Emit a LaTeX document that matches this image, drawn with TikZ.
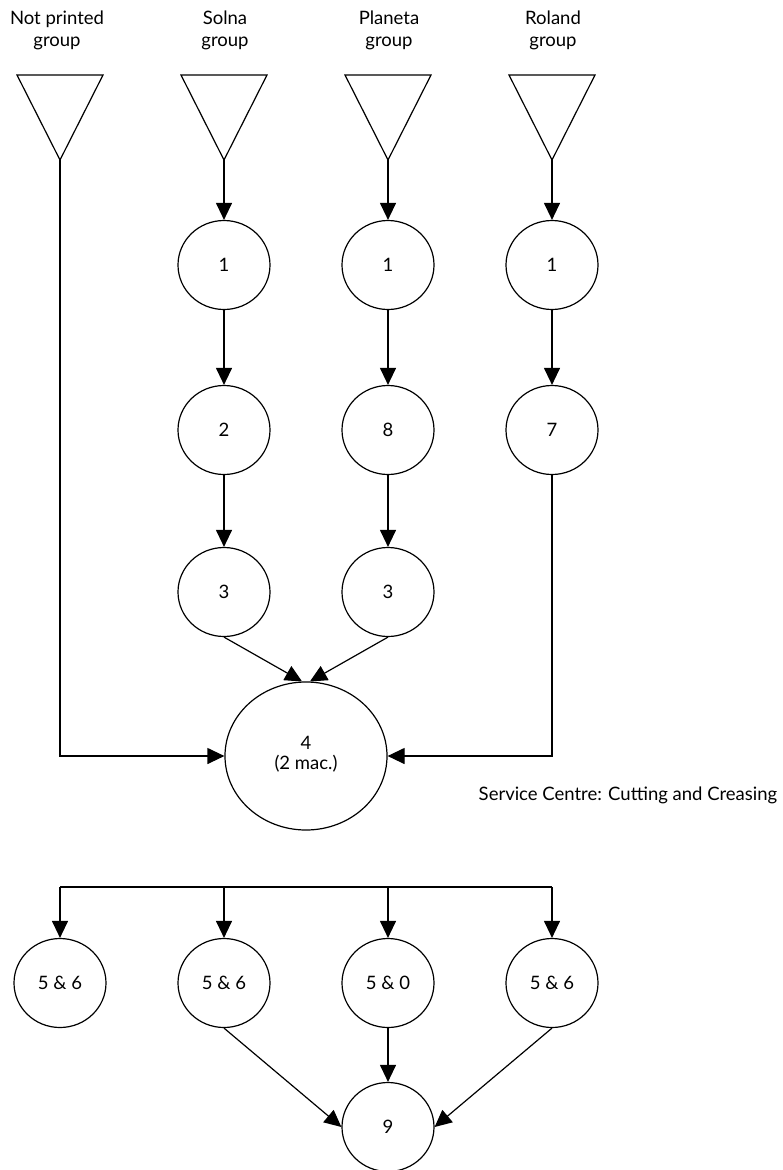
\documentclass[tikz,border=0pt]{standalone}
\usepackage{fontspec}
\setmainfont{Lato}
\usetikzlibrary{arrows.meta,shapes.geometric,calc}
\begin{document}
\begin{tikzpicture}[x=1pt,y=-1pt,
  every node/.style={font=\fontsize{18.5}{22}\selectfont},
  proc/.style={draw,ellipse,line width=1.2pt,minimum width=92pt,minimum height=89pt,inner sep=0pt},
  big/.style={draw,ellipse,line width=1.2pt,minimum width=162pt,minimum height=148pt,inner sep=0pt,align=center},
  lbl/.style={align=center},
  tri/.style={line width=1.2pt},
  conn/.style={line width=1.2pt,-{Triangle[length=17pt,width=16pt]}},
  plain/.style={line width=1.2pt}]
\useasboundingbox (0,0) rectangle (782,1170);
% group labels
\node[lbl] (l0) at (57,30) {Not printed\\group};
\node[lbl] (l1) at (225,30) {Solna\\group};
\node[lbl] (l2) at (389,30) {Planeta\\group};
\node[lbl] (l3) at (553,30) {Roland\\group};
% triangles
\foreach \i/\x in {0/60,1/224,2/388,3/552}{
  \draw[tri] (\x-43,75) -- (\x+43,75) -- (\x,160) -- cycle;
  \coordinate (t\i) at (\x,160);
}
% first row
\node[proc] (a1) at (224,265) {1};
\node[proc] (a2) at (388,265) {1};
\node[proc] (a3) at (552,265) {1};
% second row
\node[proc] (b1) at (224,430) {2};
\node[proc] (b2) at (388,430) {8};
\node[proc] (b3) at (552,430) {7};
% third row
\node[proc] (c1) at (224,592) {3};
\node[proc] (c2) at (388,592) {3};
% big
\node[big] (d) at (306,756) {4\\[-2pt](2 mac.)\\[-16pt]};
\node (sc) at (628,795) {Service Centre: Cutting and Creasing};
% connectors top
\draw[conn] (t1) -- (a1);
\draw[conn] (t2) -- (a2);
\draw[conn] (t3) -- (a3);
\draw[conn] (a1) -- (b1);
\draw[conn] (a2) -- (b2);
\draw[conn] (a3) -- (b3);
\draw[conn] (b1) -- (c1);
\draw[conn] (b2) -- (c2);
\draw[conn] (c1.south) -- (d.93);
\draw[conn] (c2.south) -- (d.87);
\draw[conn] (t0) |- (d.west);
\draw[conn] (b3.south) |- (d.east);
% bottom
\foreach \i/\x in {0/60,1/224,2/388,3/552}{
  \coordinate (h\i) at (\x,887);
}
\node[proc] (e0) at (60,983) {5 \& 6};
\node[proc] (e1) at (224,983) {5 \& 6};
\node[proc] (e2) at (388,983) {5 \& 0};
\node[proc] (e3) at (552,983) {5 \& 6};
\node[proc] (f) at (388,1127) {9};
\draw[plain] (h0) -- (h3);
\draw[conn] (h0) -- (e0);
\draw[conn] (h1) -- (e1);
\draw[conn] (h2) -- (e2);
\draw[conn] (h3) -- (e3);
\draw[conn] (e1.south) -- (f.west);
\draw[conn] (e2) -- (f);
\draw[conn] (e3.south) -- (f.east);
\end{tikzpicture}
\end{document}
